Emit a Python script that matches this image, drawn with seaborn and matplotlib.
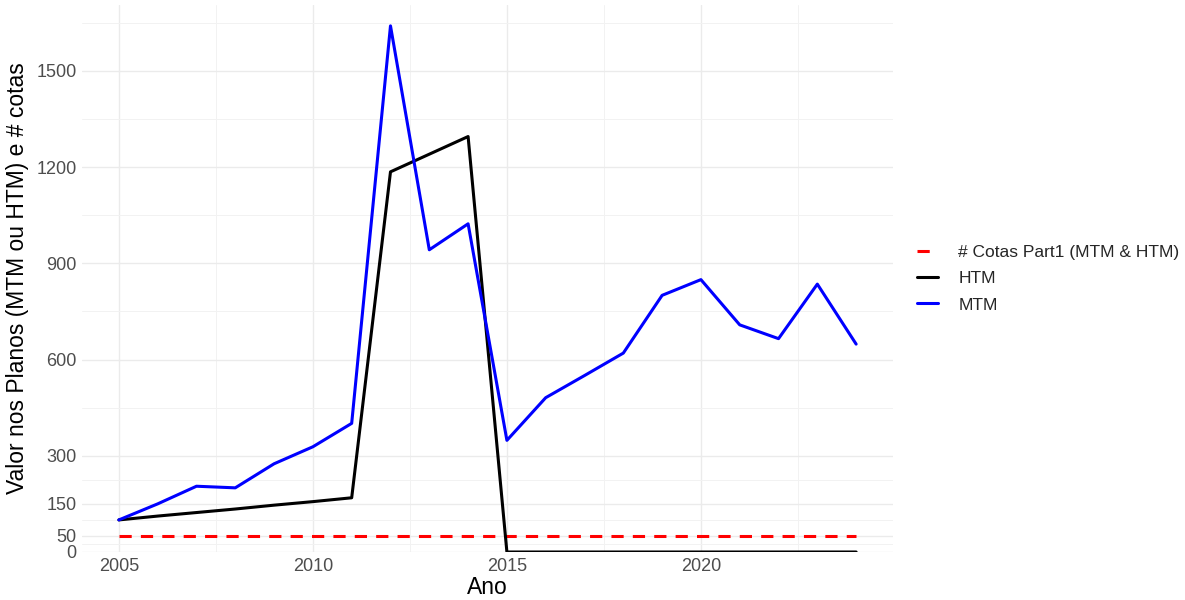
import numpy as np
import pandas as pd
import matplotlib
matplotlib.use("Agg")
import matplotlib.pyplot as plt
import seaborn as sns
from matplotlib.ticker import FixedLocator

# dados
anos = list(range(2005, 2025))
mtm = [100, 150, 205, 200, 275, 328, 401, 1640, 942, 1023,
       348, 481, 550, 620, 800, 849, 708, 665, 835, 648]
htm = [100, 112, 123, 134, 146, 157, 169, 1185, 1240, 1295,
       0, 0, 0, 0, 0, 0, 0, 0, 0, 0]
cotas = [50] * len(anos)

series = ["# Cotas Part1 (MTM & HTM)", "HTM", "MTM"]
cores = {"# Cotas Part1 (MTM & HTM)": "#FF0000", "HTM": "#000000", "MTM": "#0000FF"}

y_ticks = [0, 50, 150, 300, 600, 900, 1200, 1500]
y_minor = [25, 100, 225, 450, 750, 1050, 1350, 1650]
x_ticks = [2005, 2010, 2015, 2020]
x_minor = [2007.5, 2012.5, 2017.5, 2022.5]

df = pd.DataFrame({
    "Ano": anos * 3,
    "valor": cotas + htm + mtm,
    "serie": [series[0]] * len(anos) + [series[1]] * len(anos) + [series[2]] * len(anos),
})

sns.set_theme(style="white")
plt.rcParams["font.family"] = ["Liberation Sans", "DejaVu Sans"]

fig = plt.figure(figsize=(11.85, 6), dpi=100)
ax = fig.add_axes([82 / 1185, 1 - 552 / 600, 811 / 1185, 547 / 600])

for s in series:
    d = df[df["serie"] == s]
    sns.lineplot(data=d, x="Ano", y="valor", ax=ax, color=cores[s], label=s,
                 linewidth=2.2, errorbar=None)

# linha tracejada das cotas
ax.get_lines()[0].set_dashes((4, 3))

ax.set_xlim(2004.05, 2024.95)
ax.set_ylim(0, 1705)
ax.xaxis.set_major_locator(FixedLocator(x_ticks))
ax.xaxis.set_minor_locator(FixedLocator(x_minor))
ax.yaxis.set_major_locator(FixedLocator(y_ticks))
ax.yaxis.set_minor_locator(FixedLocator(y_minor))
ax.grid(which="major", color="#EBEBEB", linewidth=1.0)
ax.grid(which="minor", color="#F2F2F2", linewidth=0.7)
ax.set_axisbelow(True)
for sp in ax.spines.values():
    sp.set_visible(False)
ax.tick_params(which="both", length=0, labelsize=13, labelcolor="#4D4D4D", pad=4)

ax.set_xlabel("Ano", fontsize=16.5, color="black", labelpad=1)
ax.set_ylabel("Valor nos Planos (MTM ou HTM) e # cotas", fontsize=16.5, color="black", labelpad=5)

leg = ax.legend(loc="center left", bbox_to_anchor=(1.01, 0.5), frameon=False,
                fontsize=12.5, handlelength=1.2, handletextpad=1.2, labelspacing=0.65)

fig.savefig("out.png", dpi=100)
